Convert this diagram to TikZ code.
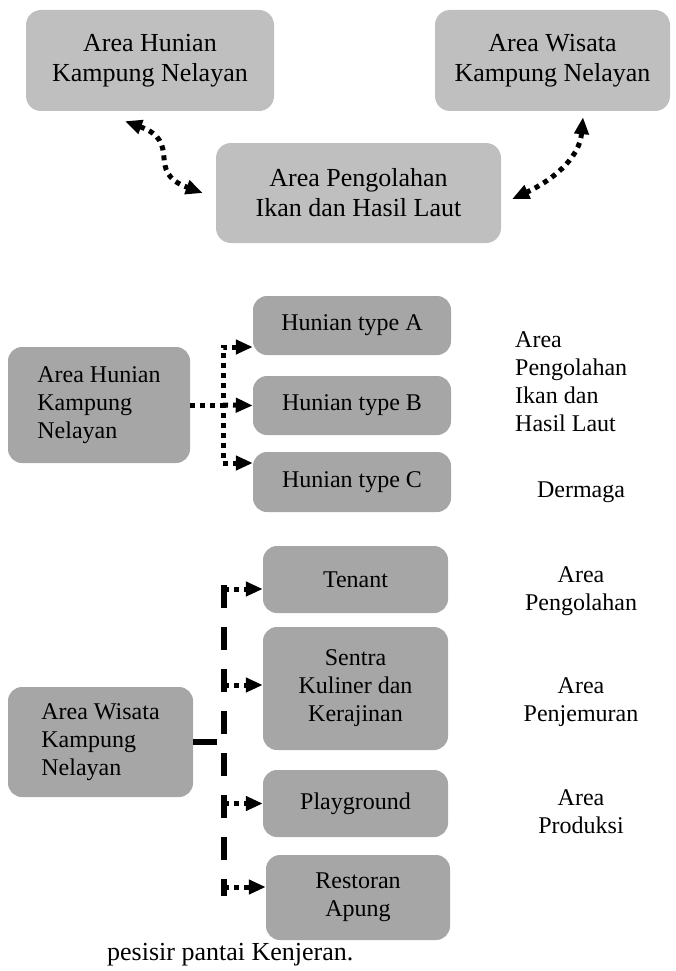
\documentclass[tikz,border=0pt]{standalone}
\usepackage{fontspec}
\setmainfont{Liberation Serif}
\usetikzlibrary{arrows.meta}

\definecolor{topgray}{RGB}{191,191,191}
\definecolor{boxgray}{RGB}{166,166,166}

\tikzset{
    topbox/.style={fill=topgray, rounded corners=15pt, align=center, inner sep=0pt,
        font=\fontsize{26}{30}\selectfont},
    areabox/.style={fill=boxgray, rounded corners=14pt, inner sep=0pt,
        font=\fontsize{24}{28}\selectfont},
    zonetext/.style={inner sep=0pt, font=\fontsize{24}{28}\selectfont},
    dotline/.style={line width=5pt, dash pattern=on 5pt off 5pt},
    dotarrow/.style={dotline, -{Triangle[length=17pt,width=14pt]}},
    dotboth/.style={dotline, {Triangle[length=17pt,width=14pt]}-{Triangle[length=17pt,width=14pt]}},
    longdash/.style={line width=6.5pt, dash pattern=on 23pt off 19pt},
    solidlink/.style={line width=6.5pt}
}

\begin{document}
\begin{tikzpicture}[x=1pt, y=1pt]
    \useasboundingbox (0,0) rectangle (676,-971);

    \node (areahunian) [topbox, minimum width=248pt, minimum height=101pt] at (150,-60.5) {Area Hunian\\Kampung Nelayan};
    \node (areawisata) [topbox, minimum width=235pt, minimum height=101pt] at (552.5,-60.5) {Area Wisata\\Kampung Nelayan};
    \node (pengolahan) [topbox, minimum width=285pt, minimum height=100pt] at (358.5,-193) {Area Pengolahan\\Ikan dan Hasil Laut};
    \draw [dotboth] ([xshift=-25pt,yshift=-10pt]areahunian.south) to [out=-20,in=160,looseness=1.5] ([xshift=-13pt]pengolahan.west);
    \draw [dotboth] ([xshift=30.5pt,yshift=-6pt]areawisata.south) to [out=-95,in=25] ([xshift=11pt,yshift=-6pt]pengolahan.east);

    \node (hunianbox) [areabox, align=left, minimum width=182pt, minimum height=116pt] at (99,-405) {Area Hunian\\Kampung\\Nelayan};
    \node (typea) [areabox, minimum width=198pt, minimum height=59pt] at (352,-325.5) {Hunian type A};
    \node (typeb) [areabox, minimum width=198pt, minimum height=59pt] at (352,-405.5) {Hunian type B};
    \node (typec) [areabox, minimum width=198pt, minimum height=60pt] at (352,-482) {Hunian type C};
    \coordinate (hsplit) at (223,-405);
    \coordinate (ain) at ([yshift=-21.5pt]typea.west);
    \coordinate (cin) at ([yshift=19pt]typec.west);
    \draw [dotline] (hunianbox.east) to (hsplit);
    \draw [dotboth] (ain) -| (hsplit) |- (cin);
    \draw [dotarrow] (hsplit) to (typeb.west);
    \node (hasillaut) [zonetext, align=left, anchor=north west] at (515,-331) {Area\\Pengolahan\\Ikan dan\\Hasil Laut};
    \node (dermaga) [zonetext, anchor=base] at (581,-497) {Dermaga};

    \node (wisatabox) [areabox, align=left, minimum width=185pt, minimum height=110pt] at (100.5,-742) {Area Wisata\\Kampung\\Nelayan};
    \node (tenant) [areabox, minimum width=185pt, minimum height=67pt] at (355.5,-579.5) {Tenant};
    \node (sentra) [areabox, align=center, minimum width=185pt, minimum height=123pt] at (355.5,-688.5) {Sentra\\Kuliner dan\\Kerajinan};
    \node (playground) [areabox, minimum width=185pt, minimum height=67pt] at (355.5,-803.5) {Playground};
    \node (restoran) [areabox, align=center, minimum width=184pt, minimum height=85pt] at (358,-897.5) {Restoran\\Apung};
    \coordinate (wtop) at (224,-585);
    \coordinate (wbot) at (224,-896);
    \coordinate (tenantin) at ([yshift=-9.5pt]tenant.west);
    \coordinate (sentrain) at ([yshift=3.5pt]sentra.west);
    \coordinate (restoranin) at ([yshift=10.5pt]restoran.west);
    \draw [solidlink] (wisatabox.east) to ++(24,0);
    \draw [longdash] (wtop) to (wbot);
    \draw [dotarrow] (tenantin -| wtop) to (tenantin);
    \draw [dotarrow] (sentrain -| wtop) to (sentrain);
    \draw [dotarrow] (playground.west -| wtop) to (playground.west);
    \draw [dotarrow] (restoranin -| wtop) to (restoranin);
    \node (zonea) [zonetext, align=center, anchor=north] at (581,-566) {Area\\Pengolahan};
    \node (zoneb) [zonetext, align=center, anchor=north] at (581,-677) {Area\\Penjemuran};
    \node (zonec) [zonetext, align=center, anchor=north] at (581,-789) {Area\\Produksi};

    \node (caption) [inner sep=0pt, anchor=base west, font=\fontsize{26}{30}\selectfont] at (107,-960) {pesisir pantai Kenjeran.};
\end{tikzpicture}
\end{document}
